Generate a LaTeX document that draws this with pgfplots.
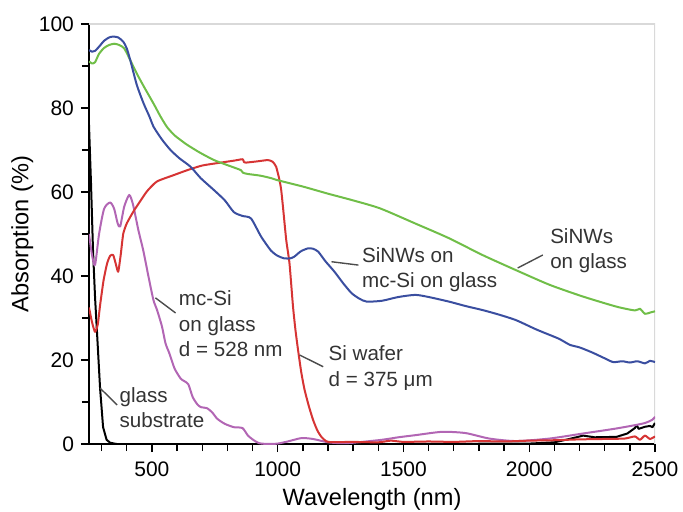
\documentclass[border=0pt]{standalone}
\usepackage{fontspec}
\setmainfont{Liberation Sans}
\usepackage{pgfplots}
\pgfplotsset{compat=1.18}

\definecolor{cblue}{RGB}{58,78,160}
\definecolor{cgreen}{RGB}{112,190,72}
\definecolor{cred}{RGB}{214,52,52}
\definecolor{cpurple}{RGB}{178,102,180}

\begin{document}
\begin{tikzpicture}
\begin{axis}[
    scale only axis,
    width=283pt, height=210pt,
    xmin=250, xmax=2500,
    ymin=0, ymax=100,
    axis lines=left,
    axis line style={-, line width=0.8pt},
    tick align=outside,
    xtick={500,1000,1500,2000,2500},
    minor xtick={300,400,600,700,800,900,1100,1200,1300,1400,1600,1700,1800,1900,2100,2200,2300,2400},
    ytick={0,20,40,60,80,100},
    minor ytick={10,30,50,70,90},
    major tick length=4pt, minor tick length=3.5pt,
    tick style={line width=0.7pt, black},
    /pgf/number format/assume math mode=true,
    /pgf/number format/1000 sep={},
    ticklabel style={font=\fontsize{10.5}{12}\selectfont},
    xticklabel style={yshift=-1.5pt},
    label style={font=\fontsize{11.8}{14}\selectfont},
    xlabel={Wavelength (nm)},
    ylabel={Absorption (\%)},
    xlabel style={at={(axis description cs:0.5,-0.133)}, anchor=center},
    ylabel style={at={(axis description cs:-0.118,0.5)}, anchor=center},
    every axis plot/.append style={line width=1pt, line join=round},
]
\draw[black!15, line width=0.8pt] (rel axis cs:0,1) -- (rel axis cs:1,1) -- (rel axis cs:1,0);

% glass substrate
\addplot[black] coordinates {
(250,76) (258,62) (266,46) (274,35) (282,26.4) (294,13.3) (306,4) (320,1) (334,0.3) (360,0)
(1000,0) (1500,0) (2000,0.1) (2100,0.4) (2160,1.2) (2214,2.0) (2260,1.6) (2347,1.7) (2390,2.5)
(2420,3.8) (2427,4.5) (2435,3.6) (2460,4.1) (2480,4.3) (2490,4.0) (2500,5)
};

% mc-Si on glass
\addplot[cpurple, smooth, tension=0.4] coordinates {
(250,50) (262,45) (274,42.6) (290,50) (310,56) (334,57.5) (350,56) (364,52.5) (374,51.8)
(390,56.5) (410,59.3) (425,57) (446,51) (466,46) (486,40) (506,34.3) (520,32) (540,28)
(554,24) (570,21.5) (590,18) (614,15.6) (628,15) (645,14.2) (662,11.2) (680,9.5) (694,8.8)
(720,8.5) (740,7.5) (760,6) (790,4.8) (826,4) (860,3.8) (882,2) (905,0.9) (926,0.2) (960,0)
(1000,0.1) (1040,0.6) (1094,1.4) (1140,1.2) (1200,0.4) (1250,0.2) (1300,0.3) (1414,1)
(1480,1.6) (1547,2.1) (1654,2.9) (1747,2.6) (1841,1.3) (1947,0.7) (2081,1.3) (2214,2.5)
(2347,3.7) (2454,4.9) (2490,5.8) (2500,6.5)
};

% Si wafer
\addplot[cred, smooth, tension=0.35] coordinates {
(250,32.5) (262,29) (274,26.7) (285,28.5) (294,33) (308,39) (322,43) (334,44.8) (346,45)
(356,43) (366,41) (376,45) (386,50) (400,52.5) (426,55.3) (450,57.5) (481,60.2) (520,62.5)
(586,64) (641,65.2) (700,66.3) (774,67) (830,67.5) (861,67.8) (866,67.1) (874,67) (920,67.3)
(961,67.6) (980,67.2) (994,66) (1007,62.9) (1014,60.5) (1021,56.5) (1034,48.6) (1047,43)
(1061,32.7) (1071,27) (1081,22.4) (1094,17) (1107,12.9) (1124,9) (1141,5.7) (1158,3.2)
(1174,1.7) (1201,0.5) (1300,0.5) (1400,0.4) (1450,0.8) (1500,0.5) (1600,0.6) (1700,0.5)
(1800,0.7) (1900,0.6) (2000,0.8) (2100,0.9) (2200,1.1) (2300,1.2) (2380,1.3) (2420,1.8)
(2440,1.0) (2460,2.0) (2480,1.2) (2500,1.8)
};

% SiNWs on glass
\addplot[cgreen, smooth, tension=0.4] coordinates {
(250,91.1) (262,90.6) (274,90.9) (290,92.9) (310,94.3) (330,95.0) (350,95.3) (370,95.0)
(390,94.2) (414,91.4) (440,88.2) (470,84.9) (507,81) (535,77.9) (561,75.4) (590,73.5)
(620,72.1) (641,71.2) (690,69.4) (747,67.6) (800,66.4) (854,65.2) (862,64.6) (880,64.3)
(930,63.9) (974,63.3) (1000,62.8) (1100,61.3) (1200,59.6) (1300,58) (1407,56.1) (1547,52.5)
(1681,49) (1814,45) (1947,41.4) (2081,37.9) (2214,35.1) (2347,32.7) (2420,31.8) (2440,32.2)
(2460,31.0) (2481,31.3) (2500,31.6)
};

% SiNWs on mc-Si on glass
\addplot[cblue, smooth, tension=0.4] coordinates {
(250,93.8) (262,93.4) (274,93.6) (290,94.6) (310,96.0) (330,96.8) (346,97.0) (366,96.8)
(386,95.8) (400,94.2) (414,91.4) (440,85.5) (467,81.1) (490,78) (507,75.5) (540,72.5)
(574,70) (610,68) (654,66) (694,63.3) (746,60.5) (790,58) (826,55.2) (860,54.3) (894,53.7)
(934,49.4) (974,46) (1000,44.8) (1026,44.2) (1050,44.2) (1066,44.6) (1090,45.8) (1107,46.3)
(1121,46.6) (1140,46.5) (1161,45.8) (1190,43.5) (1226,41) (1260,38.3) (1294,35.9)
(1325,34.6) (1354,33.9) (1414,34.1) (1480,35) (1547,35.5) (1600,35) (1681,33.9) (1750,32.8)
(1814,31.9) (1880,30.8) (1947,29.5) (2027,27.3) (2080,26) (2120,25) (2162,23.6) (2200,23)
(2250,21.8) (2300,20.4) (2334,19.5) (2370,19.7) (2400,19.4) (2430,19.7) (2460,19.2)
(2480,19.8) (2500,19.5)
};

% annotations
\begin{scope}[black!70, line width=0.7pt]
\draw (axis cs:1214,43.4) -- (axis cs:1321,42.6);
\draw (axis cs:1954,41.9) -- (axis cs:2054,45);
\draw (axis cs:1087,21.2) -- (axis cs:1181,18.4);
\draw (axis cs:514,34.8) -- (axis cs:594,31.2);
\draw (axis cs:294,13.3) -- (axis cs:362,9.3);
\end{scope}
\begin{scope}[every node/.style={anchor=west, align=left, inner sep=0pt, text=black!80,
    font=\fontsize{10.3}{12.8}\selectfont}]
\node at (axis cs:1334,41.5) {SiNWs on\\mc-Si on glass};
\node at (axis cs:2082,46) {SiNWs\\on glass};
\node at (axis cs:1201,18.1) {Si wafer\\d = 375 μm};
\node at (axis cs:606,28.6) {mc-Si\\on glass\\d = 528 nm};
\node at (axis cs:370,8.7) {glass\\substrate};
\end{scope}
\end{axis}
\pgfresetboundingbox
\path ([shift={(-44.5pt,-34pt)}]current axis.south west) rectangle ([shift={(14pt,12pt)}]current axis.north east);
\end{tikzpicture}
\end{document}
